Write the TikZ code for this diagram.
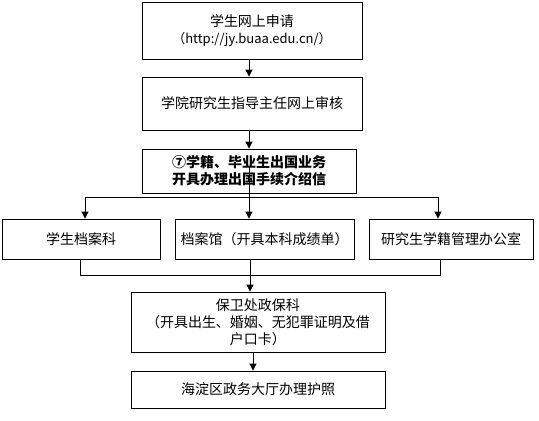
\documentclass[tikz,border=0pt]{standalone}
\usepackage{fontspec}
\newfontfamily\cjk{Noto Sans CJK SC}
\usetikzlibrary{arrows.meta}
\begin{document}
\begin{tikzpicture}[x=1pt,y=-1pt,
  box/.style={draw,line width=0.8pt,inner sep=0pt,align=center,
    font=\cjk\fontsize{14}{17}\selectfont},
  arr/.style={line width=0.8pt,-{Triangle[length=7pt,width=7pt]}},
  ln/.style={line width=0.8pt}]
\useasboundingbox (0,0) rectangle (539,421);
\node[box,minimum width=220pt,minimum height=57pt] (b1) at (252,30.5)
  {学生网上申请\\{\fontsize{13}{17}\selectfont（http://jy.buaa.edu.cn/）}};
\node[box,minimum width=220pt,minimum height=53pt] (b2) at (252,103.5)
  {\raisebox{-6pt}{学院研究生指导主任网上审核}};
\node[box,minimum width=214pt,minimum height=44pt,font=\cjk\bfseries\fontsize{14}{17}\selectfont] (b3) at (249,171)
  {⑦学籍、毕业生出国业务\\开具办理出国手续介绍信};
\node[box,minimum width=158pt,minimum height=40pt] (ba) at (81,239) {学生档案科};
\node[box,minimum width=179pt,minimum height=40pt] (bb) at (264.5,239) {档案馆（开具本科成绩单）};
\node[box,minimum width=164pt,minimum height=40pt] (bc) at (451,239) {研究生学籍管理办公室};
\node[box,minimum width=254pt,minimum height=60pt] (b4) at (258,322)
  {保卫处政保科\\（开具出生、婚姻、无犯罪证明及借\\户口卡）};
\node[box,minimum width=254pt,minimum height=37pt] (b5) at (258,389.5) {海淀区政务大厅办理护照};
% connectors
\draw[arr] ([xshift=-3pt]b1.south) -- ([xshift=-3pt]b2.north);
\draw[arr] ([xshift=-3pt]b2.south) -- (b3.north);
\coordinate (br) at (249,197);
\draw[arr] ([yshift=5pt]b3.center) -- (bb.north -| b3.center);
\draw[ln] ([xshift=4pt]ba.north |- br) -- ([xshift=-13pt]bc.north |- br);
\draw[arr] ([xshift=4pt]ba.north |- br) -- ([xshift=4pt]ba.north);
\draw[arr] ([xshift=-13pt]bc.north |- br) -- ([xshift=-13pt]bc.north);
\coordinate (mg) at (250,275);
\draw[ln] ([xshift=-1pt]ba.south) -- ([xshift=-1pt]ba.south |- mg) -- ([xshift=-11pt]bc.south |- mg) -- ([xshift=-11pt]bc.south);
\draw[arr] ([xshift=-14.5pt]bb.south) -- ([xshift=-14.5pt]bb.south |- b4.north);
\draw[arr] ([xshift=-5pt]b4.south) -- ([xshift=-5pt]b5.north);
\end{tikzpicture}
\end{document}
